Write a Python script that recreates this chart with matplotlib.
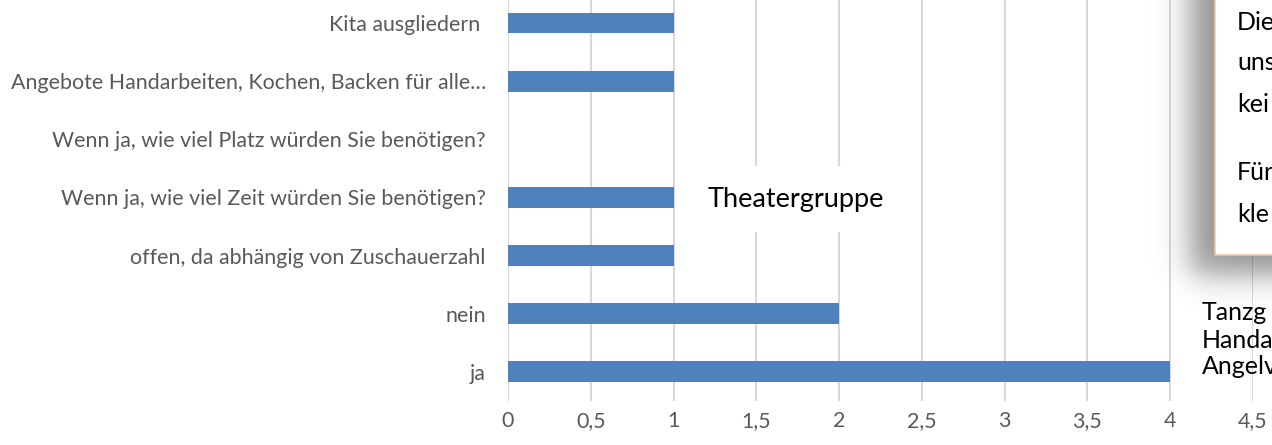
import numpy as np
import matplotlib.pyplot as plt
from matplotlib.patches import Rectangle

# data (bottom to top)
categories = [
    "ja",
    "nein",
    "offen, da abhängig von Zuschauerzahl",
    "Wenn ja, wie viel Zeit würden Sie benötigen?",
    "Wenn ja, wie viel Platz würden Sie benötigen?",
    "Angebote Handarbeiten, Kochen, Backen für alle…",
    "Kita ausgliedern ",
]
values = [4, 2, 1, 1, 0, 1, 1]
xticks = [0, 0.5, 1, 1.5, 2, 2.5, 3, 3.5, 4, 4.5]
xtick_labels = ["0", "0,5", "1", "1,5", "2", "2,5", "3", "3,5", "4", "4,5"]

callout_lines = ["Die", "uns", "kei", None, "Für", "kle"]
side_lines = ["Tanzg", "Handa", "Angelv"]

W, H = 1272, 445
plt.rcParams["font.family"] = ["Lato", "DejaVu Sans"]
fig = plt.figure(figsize=(W / 100, H / 100), dpi=100)

ax = fig.add_axes([508 / W, (H - 401) / H, (1253 - 508) / W, 401 / H])
y = np.arange(len(categories))
ax.barh(y, values, height=0.36, color="#4F81BD", zorder=3)
ax.set_xlim(0, 4.5)
ax.set_ylim(-0.5, 6.395)
ax.set_yticks(y)
ax.set_yticklabels(categories, fontsize=15.4, color="#595959")
ax.set_xticks(xticks)
ax.set_xticklabels(xtick_labels, fontsize=15.4, color="#595959")
ax.tick_params(axis="both", length=0)
ax.tick_params(axis="y", pad=16)
ax.tick_params(axis="x", pad=7)
ax.grid(axis="x", color="#D9D9D9", linewidth=1.5, zorder=0)
for s in ax.spines.values():
    s.set_visible(False)

# overlay in pixel coordinates
ov = fig.add_axes([0, 0, 1, 1])
ov.set_xlim(0, W)
ov.set_ylim(H, 0)
ov.set_axis_off()
ov.patch.set_alpha(0)

# "Theatergruppe" text box
ov.add_patch(Rectangle((676, 166), 238, 66, facecolor="white", edgecolor="none"))
ov.text(796, 199, "Theatergruppe", fontsize=19.5, color="black",
        ha="center", va="center")

# callout shadow
xs = np.arange(1140, W + 1)
ys = np.arange(0, 330)
gx, gy = np.meshgrid(xs, ys)
sig = lambda t: 1 / (1 + np.exp(-t))
alpha = 0.42 * sig((gx - 1190) / 9) * sig((274 - gy) / 9)
img = np.zeros((len(ys), len(xs), 4))
img[..., 3] = alpha
ov.imshow(img, extent=(1140, W + 1, 330, 0), aspect="auto", zorder=1)

ov.add_patch(Rectangle((1215, -5), 80, 260, facecolor="white",
                       edgecolor="#F4C7A1", linewidth=1.2, zorder=2))
ty = 22
for t in callout_lines:
    if t is None:
        ty += 28
        continue
    ov.text(1237, ty, t, fontsize=18, color="black",
            ha="left", va="center", zorder=3)
    ty += 41

for i, t in enumerate(side_lines):
    ov.text(1202, 313 + i * 27, t, fontsize=18, color="black",
            ha="left", va="center", zorder=3)

fig.savefig("out.png", dpi=100)
